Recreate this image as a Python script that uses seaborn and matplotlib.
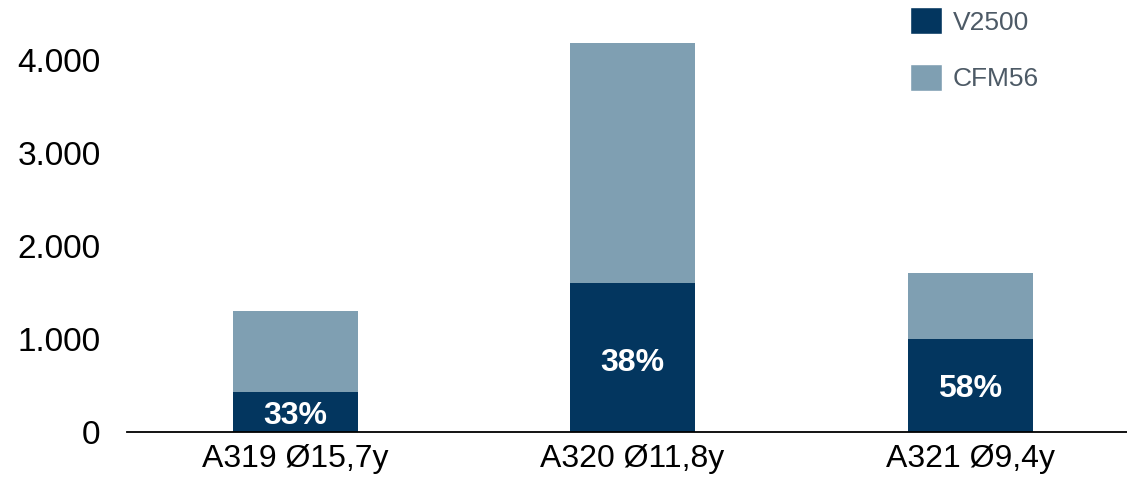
import matplotlib
matplotlib.use("Agg")
import matplotlib.pyplot as plt
import seaborn as sns
import pandas as pd
from matplotlib.patches import Patch

categories = ["A319 Ø15,7y", "A320 Ø11,8y", "A321 Ø9,4y"]
v2500 = [430, 1600, 995]
cfm56 = [870, 2585, 715]
share_labels = ["33%", "38%", "58%"]
yticks = [0, 1000, 2000, 3000, 4000]
ytick_labels = ["0", "1.000", "2.000", "3.000", "4.000"]

dark = "#03365F"
light = "#7F9FB2"

sns.set_theme(style="white")
plt.rcParams['font.family'] = ['Liberation Sans', 'DejaVu Sans']

totals = [a + b for a, b in zip(v2500, cfm56)]
df = pd.DataFrame({"cat": categories, "v2500": v2500, "total": totals})

fig = plt.figure(figsize=(11.27, 4.87), dpi=100)
ax = fig.add_axes([127/1127, 55/487, 1 - 127/1127, 400/487])

sns.barplot(data=df, x="cat", y="total", color=light, width=0.37,
            saturation=1, ax=ax, linewidth=0)
sns.barplot(data=df, x="cat", y="v2500", color=dark, width=0.37,
            saturation=1, ax=ax, linewidth=0)

offsets = [-40, -60, -40]
for i, (v, lab) in enumerate(zip(v2500, share_labels)):
    ax.text(i, v / 2 + offsets[i], lab, ha="center", va="center", color="white",
            fontsize=23, fontweight="bold")

ax.set_xlim(-0.498, 2.465)
ax.set_ylim(0, 4300)
ax.set_yticks(yticks)
ax.set_yticklabels(ytick_labels, fontsize=24, color="black")
ax.tick_params(axis="x", labelsize=23, colors="black", length=0, pad=9)
ax.tick_params(axis="y", length=0, pad=19)
ax.set_xlabel("")
ax.set_ylabel("")
for s in ["top", "right", "left"]:
    ax.spines[s].set_visible(False)
ax.spines["bottom"].set_color("black")
ax.spines["bottom"].set_linewidth(1.3)

handles = [Patch(facecolor=dark, label="V2500"), Patch(facecolor=light, label="CFM56")]
leg = fig.legend(handles=handles, loc="upper left", bbox_to_anchor=(910/1127, 1 - 7/487),
                 frameon=False, fontsize=19, handlelength=1.22, handleheight=1.22,
                 handletextpad=0.4, labelspacing=1.1, borderaxespad=0, borderpad=0)
for t in leg.get_texts():
    t.set_color("#4D5A66")

fig.savefig("out.png", dpi=100)
